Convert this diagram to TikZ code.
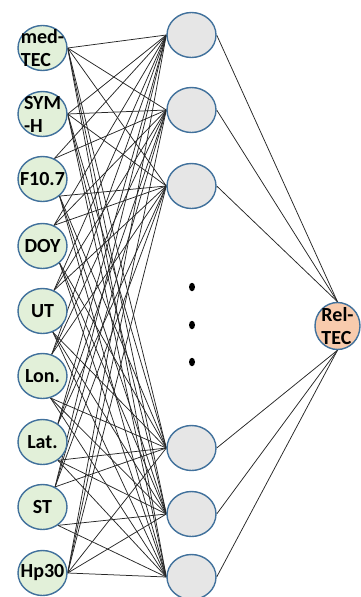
\documentclass[tikz,border=0pt]{standalone}
\usepackage{fontspec}
\setmainfont{Carlito}
\usetikzlibrary{shapes.geometric,backgrounds}
\definecolor{nodeblue}{HTML}{41719C}
\definecolor{ingreen}{HTML}{E2F0D9}
\definecolor{hidgrey}{HTML}{E6E6E6}
\definecolor{outpeach}{HTML}{F8CBAD}
\begin{document}
\begin{tikzpicture}[x=1pt,y=-1pt,
  lbl/.style={font=\bfseries\fontsize{20}{23}\selectfont, align=left, inner sep=0pt, text=black},
  base/.style={ellipse, draw=nodeblue, line width=1.4pt, inner sep=0pt},
  inp/.style={base, fill=ingreen, minimum width=49pt, minimum height=45pt},
  hid/.style={base, fill=hidgrey, minimum width=49pt, minimum height=45pt},
  outn/.style={base, fill=outpeach, minimum width=45pt, minimum height=47pt},
  link/.style={line width=0.75pt, black!85},
  dot/.style={ellipse, fill=black, inner sep=0pt, minimum width=6pt, minimum height=8.5pt}]
\useasboundingbox (0,0) rectangle (361,597);

% input nodes
\node[inp, label={[lbl]center:med-\\TEC}] (in1) at (42.5,48) {};
\node[inp, label={[lbl]center:SYM\\-H}] (in2) at (42.5,114) {};
\node[inp, label={[lbl]center:F10.7}] (in3) at (42.5,179) {};
\node[inp, label={[lbl]center:DOY}] (in4) at (42.5,246) {};
\node[inp, label={[lbl]center:UT}] (in5) at (42.5,311) {};
\node[inp, label={[lbl]center:Lon.}] (in6) at (42.5,376) {};
\node[inp, label={[lbl]center:Lat.}] (in7) at (42.5,442) {};
\node[inp, label={[lbl]center:ST}] (in8) at (42.5,507) {};
\node[inp, label={[lbl]center:Hp30}] (in9) at (42.5,573) {};

% hidden nodes
\node[hid] (h1) at (191.5,35) {};
\node[hid] (h2) at (191.5,110) {};
\node[hid] (h3) at (191.5,186) {};
\node[hid] (h4) at (191.5,448) {};
\node[hid] (h5) at (191.5,514) {};
\node[hid] (h6) at (191.5,577) {};

% dots
\node[dot] (d1) at (192,287) {};
\node[dot] (d2) at (192,325) {};
\node[dot] (d3) at (192,362) {};

% output
\node[outn, label={[lbl]center:Rel-\\TEC}] (out) at (337.5,326) {};

\begin{scope}[on background layer]
\def\iny{{48,114,179,246,311,376,442,507,573}}
\def\hy{{35,110,186,448,514,577}}
\foreach \i/\ua/\da in {1/0/0, 2/0/0, 3/60/-45, 4/61/-45, 5/61/-64, 6/67/-70, 7/50/-50, 8/58/-50, 9/0/0}{
  \foreach \j in {1,...,6}{
    \pgfmathsetmacro{\ang}{\iny[\i-1] > \hy[\j-1] ? \ua : \da}
    \draw[link] (in\i.\ang) -- (h\j.west);
  }
}
\foreach \j in {1,2,3}{\draw[link] (h\j.east) -- (out.north);}
\foreach \j in {4,5,6}{\draw[link] (h\j.east) -- (out.south);}
\end{scope}
\end{tikzpicture}
\end{document}
